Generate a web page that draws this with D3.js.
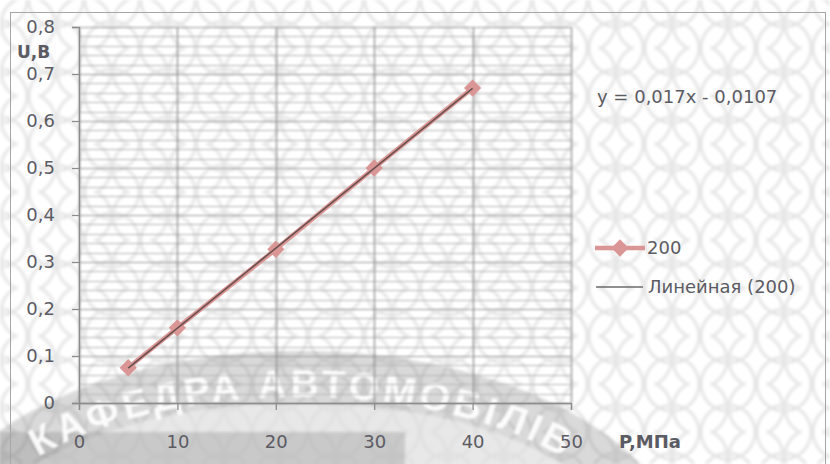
<!DOCTYPE html>
<html>
<head>
<meta charset="utf-8">
<script src="https://cdn.jsdelivr.net/npm/d3@7"></script>
<style>
  html, body { margin: 0; padding: 0; background: #fff; }
  svg { display: block; font-family: "DejaVu Sans", sans-serif; }
</style>
</head>
<body>
<svg id="chart" width="830" height="464"></svg>
<script>
// Pressure (MPa) and sensor voltage (V) for series "200"
const pressure = [5, 10, 20, 30, 40];
const voltage = [0.075, 0.16, 0.327, 0.5, 0.67];
const seriesName = "200";
const trendName = "Линейная (200)";
const xTicks = [0, 10, 20, 30, 40, 50];
const yTicks = [0, 0.1, 0.2, 0.3, 0.4, 0.5, 0.6, 0.7, 0.8];
const yMinorTicks = d3.range(0, 0.8001, 0.02);
const xTitle = "P,МПа";
const yTitle = "U,В";
const watermarkText = "КАФЕДРА АВТОМОБІЛІВ";

// Least-squares trend line through the series
function linearFit(xs, ys) {
  const n = xs.length;
  const mx = d3.mean(xs), my = d3.mean(ys);
  let sxy = 0, sxx = 0;
  for (let i = 0; i < n; i++) { sxy += (xs[i] - mx) * (ys[i] - my); sxx += (xs[i] - mx) ** 2; }
  const slope = sxy / sxx;
  return { slope, intercept: my - slope * mx };
}
const fit = linearFit(pressure, voltage);
const fmt = v => v.toString().replace(".", ",");
const equation = `y = ${fmt(+fit.slope.toFixed(3))}x - ${fmt(+Math.abs(fit.intercept).toFixed(4))}`;

const svg = d3.select("#chart");
const textColor = "#5b5b63";
const seriesColor = "#d99694";
const labelSize = 18;

// Background: interlaced ring lattice
const defs = svg.append("defs");
const pat = defs.append("pattern")
  .attr("id", "rings").attr("patternUnits", "userSpaceOnUse")
  .attr("width", 56).attr("height", 48);
[[0, 0], [56, 0], [0, 48], [56, 48], [28, 24]].forEach(([cx, cy]) => {
  pat.append("circle").attr("cx", cx).attr("cy", cy).attr("r", 27)
    .attr("fill", "none").attr("stroke", "#e6e6e6").attr("stroke-width", 3);
});
defs.append("filter").attr("id", "soft").append("feGaussianBlur").attr("stdDeviation", 0.8);
defs.append("filter").attr("id", "softer").append("feGaussianBlur").attr("stdDeviation", 1.4);

svg.append("rect").attr("width", 830).attr("height", 464).attr("fill", "#fff");
svg.append("rect").attr("width", 830).attr("height", 464).attr("fill", "url(#rings)").attr("filter", "url(#softer)");

// Watermark: gray elliptical band with lettering along it
const wm = svg.append("g");
const ecx = 300, ecy = 562, erx = 340, ery = 165;
wm.append("ellipse").attr("cx", ecx).attr("cy", ecy).attr("rx", erx + 44).attr("ry", ery + 46)
  .attr("fill", "rgba(120,120,120,0.28)").attr("filter", "url(#softer)");
wm.append("ellipse").attr("cx", ecx).attr("cy", ecy).attr("rx", erx - 6).attr("ry", ery - 6)
  .attr("fill", "rgba(242,242,242,0.6)").attr("filter", "url(#softer)");
wm.append("rect").attr("x", 0).attr("y", 432).attr("width", 405).attr("height", 40)
  .attr("fill", "rgba(90,90,90,0.22)").attr("filter", "url(#softer)");
const arcStart = [ecx - erx * 0.77, ecy - ery * Math.sqrt(1 - 0.77 * 0.77)];
const arcEnd = [ecx + erx * 0.8, ecy - ery * Math.sqrt(1 - 0.8 * 0.8)];
const arcD = `M${arcStart[0]},${arcStart[1]} A${erx},${ery} 0 0 1 ${arcEnd[0]},${arcEnd[1]}`;
const arcNode = defs.append("path").attr("id", "wmArc").attr("d", arcD).node();
wm.append("text")
  .attr("font-family", "'Liberation Sans', sans-serif")
  .attr("font-weight", "bold").attr("font-size", 39)
  .attr("fill", "rgba(255,255,255,0.92)").attr("filter", "url(#soft)")
  .append("textPath").attr("href", "#wmArc")
  .attr("textLength", arcNode.getTotalLength() * 0.98).attr("lengthAdjust", "spacing")
  .text(watermarkText);

// Outer chart frame
svg.append("rect").attr("x", 10.5).attr("y", 12.5).attr("width", 815).attr("height", 470)
  .attr("fill", "none").attr("stroke", "#a6a6a6").attr("stroke-width", 1);

// Scales
const x = d3.scaleLinear().domain([0, 50]).range([79, 571]);
const y = d3.scaleLinear().domain([0, 0.8]).range([403, 27]);

const plot = svg.append("g").attr("filter", "url(#soft)");

// Minor horizontal gridlines
plot.append("g").selectAll("line").data(yMinorTicks).join("line")
  .attr("x1", x(0)).attr("x2", x(50))
  .attr("y1", d => Math.round(y(d)) + 0.5).attr("y2", d => Math.round(y(d)) + 0.5)
  .attr("stroke", "#b4b4b4").attr("stroke-width", 1.1);

// Major gridlines
plot.append("g").selectAll("line").data(yTicks).join("line")
  .attr("x1", x(0)).attr("x2", x(50))
  .attr("y1", d => Math.round(y(d)) + 0.5).attr("y2", d => Math.round(y(d)) + 0.5)
  .attr("stroke", "#9a9a9a").attr("stroke-width", 1.2);
plot.append("g").selectAll("line").data(xTicks).join("line")
  .attr("y1", y(0.8)).attr("y2", y(0))
  .attr("x1", d => Math.round(x(d)) + 0.5).attr("x2", d => Math.round(x(d)) + 0.5)
  .attr("stroke", "#8f8f8f").attr("stroke-width", 1.3);

// Axes
const xAxis = d3.axisBottom(x).tickValues(xTicks).tickSize(7).tickPadding(25).tickFormat(d => d);
const yAxis = d3.axisLeft(y).tickValues(yTicks).tickSize(7).tickPadding(17)
  .tickFormat(d => d === 0 ? "0" : fmt(d3.format(".1f")(d)));

const gx = svg.append("g").attr("transform", `translate(0,${y(0)})`).call(xAxis);
const gy = svg.append("g").attr("transform", `translate(${x(0)},0)`).call(yAxis);
[gx, gy].forEach(g => {
  g.select(".domain").attr("stroke", "#8c8c8c").attr("stroke-width", 1.3);
  g.selectAll(".tick line").attr("stroke", "#8c8c8c").attr("stroke-width", 1.3);
  g.selectAll(".tick text").attr("fill", textColor).attr("font-size", labelSize)
    .attr("font-family", "'DejaVu Sans', sans-serif");
});

// Axis titles
svg.append("text").attr("x", 17).attr("y", 52).attr("dy", "0.35em")
  .attr("font-weight", "bold").attr("font-size", 17).attr("fill", textColor).text(yTitle);
svg.append("text").attr("x", 619).attr("y", 442).attr("dy", "0.35em")
  .attr("font-weight", "bold").attr("font-size", 18).attr("fill", textColor).text(xTitle);

// Series line and diamond markers
const line = d3.line().x((d, i) => x(pressure[i])).y(d => y(d));
const diamond = d3.symbol().type(d3.symbolDiamond2).size(190);
svg.append("path").datum(voltage).attr("d", line)
  .attr("fill", "none").attr("stroke", seriesColor).attr("stroke-width", 4.5);
svg.append("g").selectAll("path").data(voltage).join("path")
  .attr("transform", (d, i) => `translate(${x(pressure[i])},${y(d)})`)
  .attr("d", diamond).attr("fill", seriesColor);

// Linear trend line
const x0 = d3.min(pressure), x1 = d3.max(pressure);
svg.append("line")
  .attr("x1", x(x0)).attr("y1", y(fit.slope * x0 + fit.intercept))
  .attr("x2", x(x1)).attr("y2", y(fit.slope * x1 + fit.intercept))
  .attr("stroke", "#6b5050").attr("stroke-width", 1.6);

// Trend equation
svg.append("text").attr("x", 597).attr("y", 97).attr("dy", "0.35em")
  .attr("font-size", labelSize).attr("fill", textColor).text(equation);

// Legend
const leg = svg.append("g");
leg.append("line").attr("x1", 595).attr("x2", 645).attr("y1", 248).attr("y2", 248)
  .attr("stroke", seriesColor).attr("stroke-width", 4.5);
leg.append("path").attr("transform", "translate(620,248)").attr("d", diamond).attr("fill", seriesColor);
leg.append("text").attr("x", 647).attr("y", 248).attr("dy", "0.35em")
  .attr("font-size", labelSize).attr("fill", textColor).text(seriesName);
leg.append("line").attr("x1", 596).attr("x2", 643).attr("y1", 287).attr("y2", 287)
  .attr("stroke", "#6b6b6b").attr("stroke-width", 1.6);
leg.append("text").attr("x", 648).attr("y", 287).attr("dy", "0.35em")
  .attr("font-size", labelSize).attr("fill", textColor).text(trendName);
</script>
</body>
</html>
